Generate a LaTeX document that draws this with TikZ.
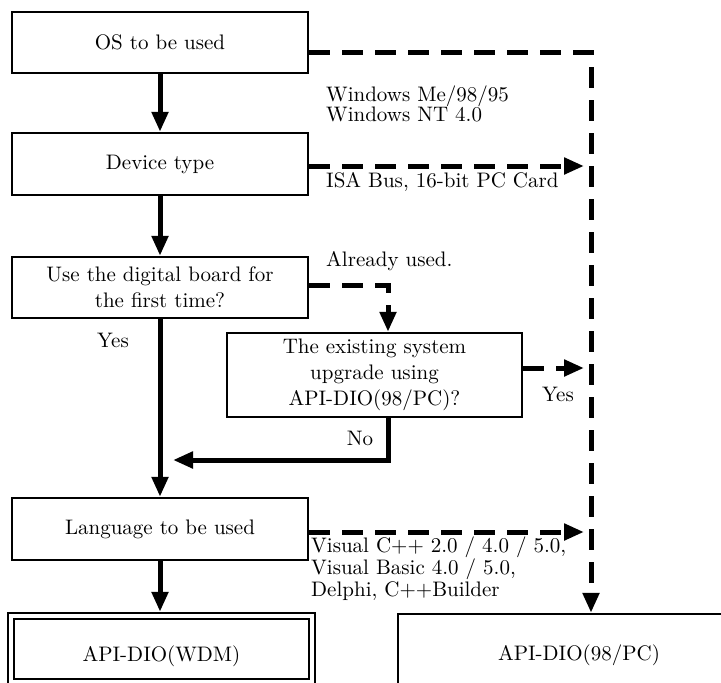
\documentclass[tikz,border=0pt]{standalone}
\usepackage{fontspec}
\setmainfont{lmroman10-regular.otf}
\usepackage{tikz}
\usetikzlibrary{arrows.meta}

\newcommand{\chartfont}{\fontsize{21pt}{26pt}\selectfont}
\newcommand{\notefont}{\fontsize{21pt}{20pt}\selectfont}

\begin{document}
\begin{tikzpicture}[x=1pt,y=-1pt,
  box/.style={draw, line width=2.4pt, minimum width=296pt, minimum height=61pt, align=center, font=\chartfont, inner sep=0pt},
  flow/.style={line width=5pt, -{Triangle[length=20pt,width=16pt]}},
  alt/.style={flow, dash pattern=on 21pt off 12pt},
  note/.style={align=left, inner sep=0pt, font=\notefont}]
\useasboundingbox (0,0) rectangle (721,683);
\clip (0,0) rectangle (721,683);
\node[box] (os) at (160,42.5) {OS to be used};
\node[box, minimum height=62pt] (dev) at (160,164) {Device type};
\node[box] (first) at (160,287.5) {Use the digital board for\\the first time?};
\node[box, minimum width=295pt, minimum height=84pt] (exist) at (374.5,375) {The existing system\\upgrade using\\API-DIO(98/PC)?};
\node[box, minimum height=62pt] (lang) at (160,529) {Language to be used};
\node[box, double, double distance=3.6pt, minimum width=301pt, minimum height=66pt, text height=30pt] (wdm) at (161.5,649) {API-DIO(WDM)};
\node[box, minimum width=362pt, minimum height=82pt] (pc) at (579,655) {API-DIO(98/PC)};
\coordinate (turn) at (591,52);
\coordinate (devend) at (584,166);
\coordinate (yesend) at (584,368);
\coordinate (langend) at (584,532);
\coordinate (merge) at (173,460);
\draw[flow] (os) -- (dev);
\draw[flow] (dev) -- (first);
\draw[flow] (first) -- (lang);
\draw[flow, shorten >=3pt] (lang.south) -- (lang.south |- wdm.north);
\draw[flow] ([xshift=13.5pt]exist.south) |- (merge);
\draw[alt] ([yshift=-9.5pt]os.east) -- (turn) -- (turn |- pc.north);
\draw[alt] (dev.east |- devend) -- (devend);
\draw[alt] (first.east |- 0,285) -| ([xshift=13.5pt]exist.north);
\draw[alt] (exist.east |- yesend) -- (yesend);
\draw[alt] (lang.east |- langend) -- (langend);
\node[note, anchor=base west] (oslist) at (326,121.7) {Windows Me/98/95\\Windows NT 4.0};
\node[note, anchor=base west] (buslist) at (326,187) {ISA Bus, 16-bit PC Card};
\node[note, anchor=base west] (used) at (326,266) {Already used.};
\node[note, anchor=base] (yesfirst) at (113,347) {Yes};
\node[note, anchor=base] (yesexist) at (558,401.7) {Yes};
\node[note, anchor=base] (noexist) at (360,445) {No};
\node[note, anchor=base west] (langlist) at (311,596) {Visual C++ 2.0 / 4.0 / 5.0,\\Visual Basic 4.0 / 5.0,\\Delphi, C++Builder};
\end{tikzpicture}
\end{document}
